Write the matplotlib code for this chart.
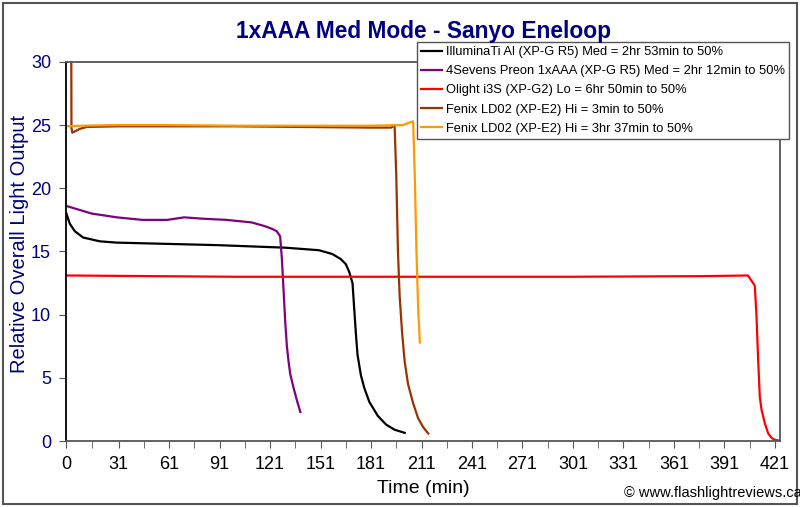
import matplotlib.pyplot as plt
from matplotlib.patches import Rectangle

# =========================
# DATA
# =========================
illum_t = [0, 2, 5, 10, 20, 30, 60, 90, 110, 130, 150, 158, 163, 166, 168, 170, 171, 172,
           173, 175, 177, 180, 185, 190, 195, 201]
illum_y = [18.0, 17.2, 16.6, 16.1, 15.8, 15.7, 15.6, 15.5, 15.4, 15.3, 15.1, 14.8, 14.4,
           14.0, 13.4, 12.5, 10.5, 8.5, 6.8, 5.2, 4.2, 3.1, 2.0, 1.3, 0.9, 0.65]

preon_t = [0, 5, 15, 30, 45, 60, 70, 80, 95, 110, 118, 122, 125, 127, 128, 129, 130, 131,
           132, 133, 135, 137, 139]
preon_y = [18.6, 18.4, 18.0, 17.7, 17.5, 17.5, 17.7, 17.6, 17.5, 17.3, 17.0, 16.8, 16.6,
           16.2, 14.5, 12.0, 9.5, 7.5, 6.3, 5.3, 4.2, 3.2, 2.3]

olight_t = [0, 50, 100, 200, 300, 380, 405, 407, 409, 410, 411, 412, 413, 415, 417, 419,
            421, 423]
olight_y = [13.1, 13.05, 13.0, 13.0, 13.0, 13.05, 13.1, 12.7, 12.3, 10.0, 6.5, 3.5, 2.5,
            1.4, 0.6, 0.25, 0.1, 0.05]

ld02a_t = [0, 2.9, 3.0, 3.5, 5, 8, 12, 30, 60, 100, 140, 180, 193, 195, 196, 197, 198,
           199.5, 201, 203, 206, 209, 212, 215]
ld02a_y = [31, 31, 24.8, 24.4, 24.5, 24.7, 24.85, 24.9, 24.9, 24.9, 24.85, 24.8, 24.8, 25.0,
           21.0, 15.0, 11.5, 8.5, 6.3, 4.5, 3.0, 1.8, 1.1, 0.6]

ld02b_t = [0, 10, 30, 60, 100, 140, 180, 200, 204, 206, 207, 208, 209, 210]
ld02b_y = [24.9, 24.95, 25.0, 25.0, 24.95, 24.95, 24.95, 25.0, 25.2, 25.3, 21.0, 15.0, 10.5,
           7.8]

labels = [
    "IlluminaTi Al (XP-G R5) Med = 2hr 53min to 50%",
    "4Sevens Preon 1xAAA (XP-G R5) Med = 2hr 12min to 50%",
    "Olight i3S (XP-G2) Lo = 6hr 50min to 50%",
    "Fenix LD02 (XP-E2) Hi = 3min to 50%",
    "Fenix LD02 (XP-E2) Hi = 3hr 37min to 50%",
]
colors = ["#000000", "#800080", "#FF0000", "#993300", "#FF9900"]

x_ticks = [0, 31, 61, 91, 121, 151, 181, 211, 241, 271, 301, 331, 361, 391, 421]

NAVY = "#000080"

# =========================
# FIGURE
# =========================
plt.rcParams["font.family"] = ["Liberation Sans", "DejaVu Sans"]

fig = plt.figure(figsize=(8, 5.07), dpi=100)
fig.patches.append(Rectangle((0.004, 0.006), 0.992, 0.988, transform=fig.transFigure,
                             fill=False, edgecolor="#555555", linewidth=1.5))

ax = fig.add_axes([0.083, 0.130, 0.892, 0.748])

series = [(illum_t, illum_y), (preon_t, preon_y), (olight_t, olight_y),
          (ld02a_t, ld02a_y), (ld02b_t, ld02b_y)]
for (t, y), lab, col in zip(series, labels, colors):
    ax.plot(t, y, color=col, linewidth=1.6, label=lab)

ax.set_xlim(0, 424)
ax.set_ylim(0, 30)
ax.set_xticks(x_ticks)
ax.set_xticks([(a + b) / 2 for a, b in zip(x_ticks[:-1], x_ticks[1:])], minor=True)
ax.set_yticks([0, 5, 10, 15, 20, 25, 30])
ax.tick_params(axis="x", which="both", direction="out", length=5, colors="#555555",
               labelcolor="black", labelsize=13, pad=6)
ax.tick_params(axis="y", direction="out", length=5, colors="#555555",
               labelcolor=NAVY, labelsize=13, pad=6)

for side in ["top", "right", "bottom"]:
    ax.spines[side].set_color("#555555")
    ax.spines[side].set_linewidth(1.3)
ax.spines["left"].set_color("black")
ax.spines["left"].set_linewidth(1.3)

ax.set_xlabel("Time (min)", fontsize=14, labelpad=5)
ax.set_ylabel("Relative Overall Light Output", fontsize=14.5, color=NAVY)
ax.yaxis.set_label_coords(-0.052, 0.52)

fig.text(0.529, 0.938, "1xAAA Med Mode - Sanyo Eneloop", ha="center", va="center",
         fontsize=16.4, fontweight="bold", color=NAVY)
fig.text(1.002, 0.028, "\u00a9 www.flashlightreviews.ca", ha="right", va="center",
         fontsize=10.5)

leg = ax.legend(loc="upper left", bbox_to_anchor=(0.521, 0.918),
                bbox_transform=fig.transFigure, fontsize=9.3, frameon=True,
                fancybox=False, edgecolor="#555555", framealpha=1,
                handlelength=1.6, handletextpad=0.3, labelspacing=0.55,
                borderpad=0.35, borderaxespad=0)
leg.get_frame().set_linewidth(1.0)

fig.savefig("out.png", dpi=100)
